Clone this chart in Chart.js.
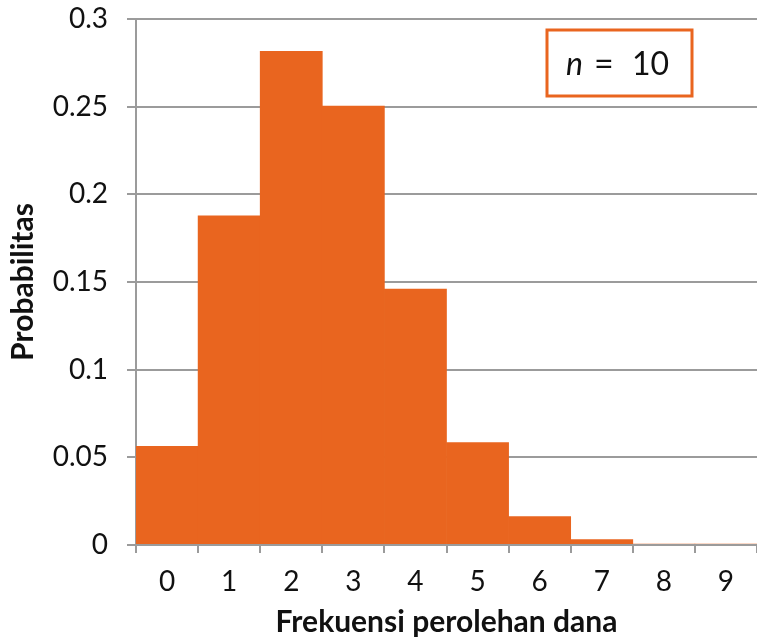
<!DOCTYPE html>
<html>
<head>
<meta charset="utf-8">
<script src="https://cdn.jsdelivr.net/npm/chart.js@4.4.1/dist/chart.umd.min.js"></script>
<style>
  html, body { margin: 0; padding: 0; background: #fff; }
  #wrap { width: 757px; height: 640px; }
</style>
</head>
<body>
<div id="wrap"><canvas id="chart_binom"></canvas></div>
<script>
// values
const categories = ['0', '1', '2', '3', '4', '5', '6', '7', '8', '9'];
const probabilities = [0.0563, 0.1877, 0.2816, 0.2503, 0.146, 0.0584, 0.0162, 0.0031, 0.0004, 0.00003];
const yTicks = [0, 0.05, 0.1, 0.15, 0.2, 0.25, 0.3];

const orange = '#E9651F';
const gridGray = '#9b9b9b';
const fontName = 'Lato, "DejaVu Sans", sans-serif';

// the little "n = 10" box in the top right corner
const nBox = {
  id: 'nBox',
  afterDraw(chart) {
    const ctx = chart.ctx;
    ctx.save();
    ctx.fillStyle = '#fff';
    ctx.fillRect(547, 30, 145, 66);
    ctx.strokeStyle = orange;
    ctx.lineWidth = 3;
    ctx.strokeRect(547, 30, 145, 66);
    ctx.fillStyle = '#111';
    ctx.textBaseline = 'alphabetic';
    ctx.font = 'italic 32px ' + fontName;
    ctx.fillText('n', 566, 75);
    ctx.font = '34px ' + fontName;
    ctx.fillText('=', 594, 76);
    ctx.font = '32px ' + fontName;
    ctx.fillText('10', 632, 75);
    ctx.restore();
  }
};

new Chart(document.getElementById('chart_binom'), {
  type: 'bar',
  data: {
    labels: categories,
    datasets: [{
      label: 'Probabilitas',
      data: probabilities,
      backgroundColor: orange,
      borderWidth: 0,
      barPercentage: 1,
      categoryPercentage: 1
    }]
  },
  options: {
    responsive: true,
    maintainAspectRatio: false,
    animation: false,
    layout: { padding: { top: 19, right: 0, left: 0, bottom: 0 } },
    plugins: {
      legend: { display: false },
      tooltip: { enabled: false }
    },
    scales: {
      x: {
        offset: true,
        border: { color: gridGray, width: 2, z: 1 },
        grid: {
          offset: true,
          drawOnChartArea: false,
          drawTicks: true,
          tickLength: 8,
          color: gridGray,
          lineWidth: 2
        },
        ticks: {
          color: '#111',
          padding: 12,
          maxRotation: 0,
          font: { family: fontName, size: 28 }
        },
        title: {
          display: true,
          text: 'Frekuensi perolehan dana',
          color: '#111',
          padding: { top: 0, bottom: 0 },
          font: { family: fontName, size: 30, weight: 'bold' }
        },
        afterFit(scale) {
          scale.height = 95;
          scale.paddingLeft = 0;
          scale.paddingRight = 0;
        }
      },
      y: {
        min: 0,
        max: 0.3,
        afterBuildTicks(scale) {
          scale.ticks = yTicks.map(v => ({ value: v }));
        },
        border: { color: gridGray, width: 2 },
        grid: {
          color: gridGray,
          lineWidth: 2,
          tickLength: 9
        },
        ticks: {
          color: '#111',
          padding: 19,
          font: { family: fontName, size: 28 },
          callback: v => String(Number(v.toFixed(2)))
        },
        title: {
          display: true,
          text: 'Probabilitas',
          color: '#111',
          padding: { top: 5, bottom: 0 },
          font: { family: fontName, size: 30, weight: 'bold' }
        },
        afterFit(scale) {
          scale.width = 136;
          scale.paddingTop = 0;
          scale.paddingBottom = 0;
        }
      }
    }
  },
  plugins: [nBox]
});
</script>
</body>
</html>
